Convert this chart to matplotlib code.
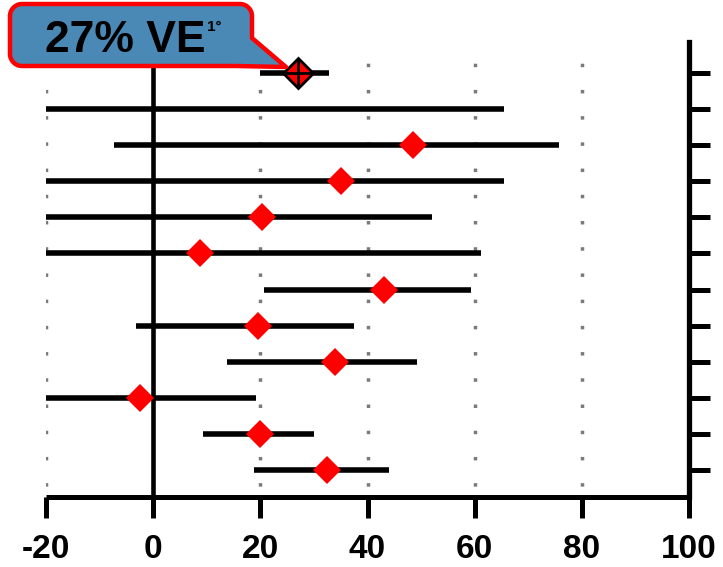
"""Forest plot of vaccine effectiveness estimates with 95% CI."""

import matplotlib
import matplotlib.pyplot as plt
import numpy as np
from matplotlib.patches import Polygon

matplotlib.use("Agg")

# ---------------------------------------------------------------------------
# Data (one row per estimate, top to bottom)
# ---------------------------------------------------------------------------
ve_point = [27.0, np.nan, 48.5, 35.0, 20.3, 8.8, 43.0, 19.6, 33.9, -2.5, 20.0, 32.4]
ci_low = [20.0, -20.0, -7.3, -20.0, -20.0, -20.0, 20.7, -3.2, 13.8, -20.0, 9.3, 18.8]
ci_high = [32.8, 65.4, 75.7, 65.4, 52.0, 61.1, 59.3, 37.5, 49.2, 19.1, 30.0, 44.0]
x_ticks = [-20, 0, 20, 40, 60, 80, 100]
grid_x = [-20, 20, 40, 60, 80]
pooled_label = "27% VE"
pooled_sup = "1°"

W, H = 723, 567
fig = plt.figure(figsize=(W / 100, H / 100), dpi=100)
ax = fig.add_axes([46 / W, 1 - 497 / H, (689 - 46) / W, (497 - 42) / H])

rows = np.arange(1, len(ve_point) + 1)

# dotted grid + zero line
ax.vlines(grid_x, 0, 14, colors="#7a7a7a", linewidth=2.5,
          linestyles=[(0, (1, 6.55))], zorder=0)
ax.axvline(0, color="black", linewidth=3.3, zorder=1)

# confidence intervals
ax.hlines(rows, ci_low, ci_high, colors="black", linewidth=4.0,
          capstyle="butt", zorder=2)

# point estimates; the first row is the pooled estimate
ax.plot(ve_point[1:], rows[1:], linestyle="none", marker="D", markersize=14.5,
        color="red", markeredgewidth=0, zorder=3)
ax.plot(ve_point[:1], rows[:1], linestyle="none", marker="D", markersize=15,
        markerfacecolor="red", markeredgecolor="black", markeredgewidth=2,
        zorder=4)
ax.plot(ve_point[:1], rows[:1], linestyle="none", marker="+", markersize=19,
        color="black", markeredgewidth=2, zorder=5)

ax.set_xlim(-20, 100)
ax.set_ylim(12.75, 0.14)

for side in ("top", "left"):
    ax.spines[side].set_visible(False)
ax.spines["bottom"].set_linewidth(3.6)
ax.spines["right"].set_linewidth(3.8)
ax.spines["bottom"].set_capstyle("butt")

ax.set_xticks(x_ticks)
ax.set_xticklabels([str(v) for v in x_ticks])
ax.tick_params(axis="x", direction="out", length=15, width=3.6, pad=12,
               labelsize=24)
for lbl in ax.get_xticklabels():
    lbl.set_fontfamily("Liberation Sans")
    lbl.set_fontweight("bold")

ax.yaxis.tick_right()
ax.set_yticks(rows)
ax.set_yticklabels([])
ax.tick_params(axis="y", direction="out", length=15, width=3.6)

# callout bubble pointing at the pooled estimate
x0, x1, y0, y1, r = 10, 252, 4, 66, 12
pts = []
def arc(cx, cy, a0, a1):
    for a in np.linspace(np.radians(a0), np.radians(a1), 12):
        pts.append((cx + r * np.cos(a), cy + r * np.sin(a)))
# pixel coordinates, y downward
arc(x0 + r, y0 + r, 180, 270)
arc(x1 - r, y0 + r, 270, 360)
pts.append((x1, 38))
pts.append((286, 67))
pts.append((236, y1))
arc(x0 + r, y1 - r, 90, 180)
pts = [(px / W, 1 - py / H) for px, py in pts]
bubble = Polygon(pts, closed=True, transform=fig.transFigure,
                 facecolor="#4a89b5", edgecolor="red", linewidth=3.2,
                 joinstyle="round", zorder=10)
fig.patches.append(bubble)

fig.text(45 / W, 1 - 52 / H, pooled_label, fontsize=32, fontweight="bold",
         family="Liberation Sans", va="baseline", ha="left", zorder=11)
fig.text(207 / W, 1 - 20 / H, pooled_sup, fontsize=11, fontweight="bold",
         family="Liberation Sans", va="top", ha="left", zorder=11)

fig.savefig("out.png", dpi=100)
